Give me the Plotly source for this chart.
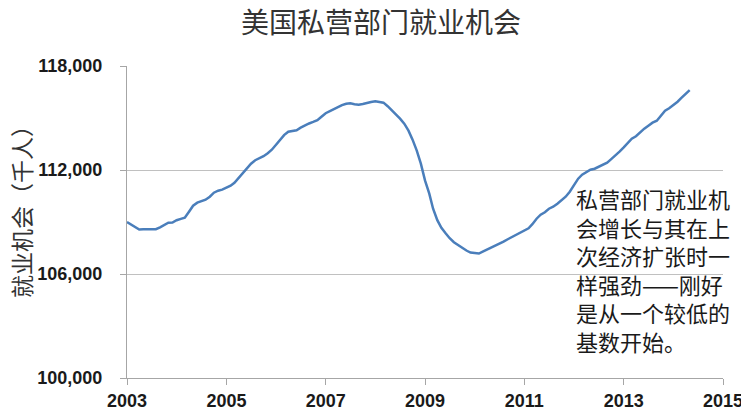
import pandas as pd
import plotly.graph_objects as go

# Monthly US private-sector employment (thousands), Jan 2003 onward
employment = [
    109000, 108850, 108670, 108570, 108580, 108580, 108545, 108585, 108695, 108845, 108960, 108970,
    109100, 109180, 109250, 109595, 109940, 110115, 110200, 110285, 110460, 110690, 110805, 110865,
    110980, 111095, 111265, 111555, 111845, 112075, 112365, 112565, 112680, 112795, 112970, 113170,
    113460, 113730, 114010, 114210, 114270, 114295, 114440, 114585, 114685, 114775, 114875, 115075,
    115275, 115395, 115510, 115625, 115740, 115825, 115845, 115795, 115770, 115810, 115885, 115925,
    115970, 115925, 115885, 115680, 115450, 115220, 114960, 114670, 114270, 113750, 113115, 112365,
    111385, 110635, 109765, 109105, 108670, 108355, 108065, 107835, 107660, 107515, 107355, 107240,
    107230, 107180, 107285, 107400, 107515, 107605, 107720, 107865, 108005, 108135, 108265, 108380,
    108500, 108640, 108875, 109190, 109420, 109565, 109765, 109880, 110055, 110230, 110460, 110750,
    111150, 111500, 111730, 111875, 112015, 112075, 112175, 112275, 112420, 112625, 112825, 113055,
    113305, 113545, 113805, 113950, 114180, 114385, 114555, 114730, 114845, 115105, 115420, 115565,
    115740, 115940, 116155, 116360, 116605,
]
start_month = "2003-01-01"
dates = pd.date_range(start_month, periods=len(employment), freq="MS")

x_range = ["2003-01-01", "2015-01-01"]
y_range = [100000, 118000]
y_ticks = [100000, 106000, 112000, 118000]

title_text = "美国私营部门就业机会"
y_title = "就业机会（千人）"
note_lines = [
    "私营部门就业机",
    "会增长与其在上",
    "次经济扩张时一",
    "样强劲——刚好",
    "是从一个较低的",
    "基数开始。",
]

CJK = "Noto Sans CJK SC"
TICKFONT = dict(family="Liberation Sans, Arial, sans-serif", size=18, color="#1a1a1a", weight="bold")

# page body has an 8px default margin, so the figure is sized to fit the window
PAGE_OFF = 8
W, H = 749 - PAGE_OFF, 419 - PAGE_OFF

fig = go.Figure()
fig.add_trace(go.Scatter(
    x=dates, y=employment, mode="lines",
    line=dict(color="#4a7ebb", width=2.5),
    showlegend=False, hoverinfo="skip",
))

fig.update_layout(
    width=W, height=H,
    margin=dict(l=127 - PAGE_OFF, r=26, t=66 - PAGE_OFF, b=41),
    paper_bgcolor="white", plot_bgcolor="white",
    title=dict(text=title_text, x=(381 - PAGE_OFF) / W, xanchor="center", xref="container",
               y=1 - (23 - PAGE_OFF) / H, yanchor="middle", yref="container",
               font=dict(family=CJK, size=28, color="#333333")),
    xaxis=dict(
        type="date", range=x_range, dtick="M24", tick0="2003-01-01", tickformat="%Y",
        showgrid=False, showline=True, linecolor="#a6a6a6", linewidth=1,
        ticks="outside", ticklen=6, tickcolor="#a6a6a6",
        tickfont=TICKFONT, zeroline=False, automargin=False,
    ),
    yaxis=dict(
        range=y_range, tickvals=y_ticks, tickformat=",d",
        showgrid=True, gridcolor="#c0c0c0", gridwidth=1,
        showline=True, linecolor="#a6a6a6", linewidth=1,
        ticks="outside", ticklen=6, tickcolor="#a6a6a6", ticklabelstandoff=14,
        tickfont=TICKFONT, zeroline=False, automargin=False,
    ),
)

fig.add_annotation(
    text=y_title, textangle=-90, showarrow=False,
    xref="paper", yref="paper", x=(21 - 127) / 596, y=(378 - 206) / 312,
    xanchor="center", yanchor="middle",
    font=dict(family=CJK, size=23, color="#333333"),
)

fig.add_annotation(
    text="<br>".join(note_lines), showarrow=False, align="left",
    xref="paper", yref="paper", x=(574 - 127) / 596, y=(378 - 269) / 312,
    xanchor="left", yanchor="middle",
    font=dict(family=CJK, size=22, color="#1a1a1a"),
)

fig.write_html("out.html")
